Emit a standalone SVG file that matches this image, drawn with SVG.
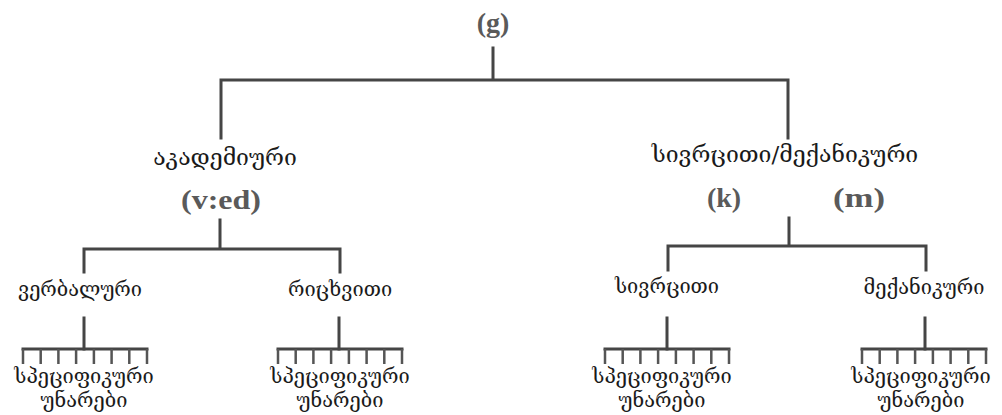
<svg xmlns="http://www.w3.org/2000/svg" width="1002" height="415" viewBox="0 0 1002 415">
<style>
.bg{fill:#ffffff}
.geo{font-family:"DejaVu Serif","DejaVu Sans",serif;font-size:23px;fill:#1a1a1a;text-anchor:middle}
.geo3{font-family:"DejaVu Serif","DejaVu Sans",serif;font-size:20px;fill:#1a1a1a;text-anchor:middle}
.geo2{font-family:"DejaVu Serif","DejaVu Sans",serif;font-size:20px;fill:#1a1a1a;text-anchor:middle}
.sym{font-family:"Liberation Serif",serif;font-size:28px;font-weight:bold;fill:#5a5a5a;text-anchor:middle}
.ln{stroke:#454545;stroke-width:3;fill:none;stroke-linecap:square}
.tooth{stroke:#555555;stroke-width:2.5;fill:none}
</style>
<defs>
<g id="comb">
<path class="ln" d="M-62,0 H62"/>
<path class="tooth" d="M-62,0 V15 M-44.3,0 V15 M-26.6,0 V15 M-8.9,0 V15 M8.9,0 V15 M26.6,0 V15 M44.3,0 V15 M62,0 V15"/>
</g>
</defs>
<rect class="bg" x="0" y="0" width="1002" height="415"/>
<g id="connectors">
<path class="ln" d="M493,48 V80 M221,80 H788 M221,80 V138 M788,80 V138"/>
<path class="ln" d="M220,220 V249 M84,249 H340 M84,249 V272 M340,249 V272"/>
<path class="ln" d="M789,218 V246 M668,246 H926 M668,246 V270 M926,246 V270"/>
<path class="ln" d="M84,318 V349 M339,318 V349 M667,318 V349 M925,318 V349"/>
<use href="#comb" x="85" y="349"/>
<use href="#comb" x="340" y="349"/>
<use href="#comb" x="667" y="349"/>
<use href="#comb" x="924" y="349"/>
</g>
<g id="node-g"><text class="sym" x="493" y="32">(g)</text></g>
<g id="node-academic">
<text class="geo" x="225" y="165">აკადემიური</text>
<text class="sym" x="221" y="209" textLength="80" lengthAdjust="spacingAndGlyphs">(v:ed)</text>
</g>
<g id="node-spatial-mechanical">
<text class="geo" x="785" y="162">სივრცითი/მექანიკური</text>
<text class="sym" x="724" y="207">(k)</text>
<text class="sym" x="859" y="207" textLength="52" lengthAdjust="spacingAndGlyphs">(m)</text>
</g>
<g id="node-verbal"><text class="geo3" x="80" y="296">ვერბალური</text></g>
<g id="node-numeric"><text class="geo3" x="340" y="296">რიცხვითი</text></g>
<g id="node-spatial"><text class="geo3" x="667" y="293">სივრცითი</text></g>
<g id="node-mechanical"><text class="geo3" x="924" y="294">მექანიკური</text></g>
<g id="node-specific-1"><text class="geo2" x="84" y="383">სპეციფიკური</text><text class="geo2" x="84" y="407">უნარები</text></g>
<g id="node-specific-2"><text class="geo2" x="340" y="383">სპეციფიკური</text><text class="geo2" x="340" y="407">უნარები</text></g>
<g id="node-specific-3"><text class="geo2" x="662" y="383">სპეციფიკური</text><text class="geo2" x="662" y="407">უნარები</text></g>
<g id="node-specific-4"><text class="geo2" x="921" y="383">სპეციფიკური</text><text class="geo2" x="921" y="407">უნარები</text></g>
</svg>
